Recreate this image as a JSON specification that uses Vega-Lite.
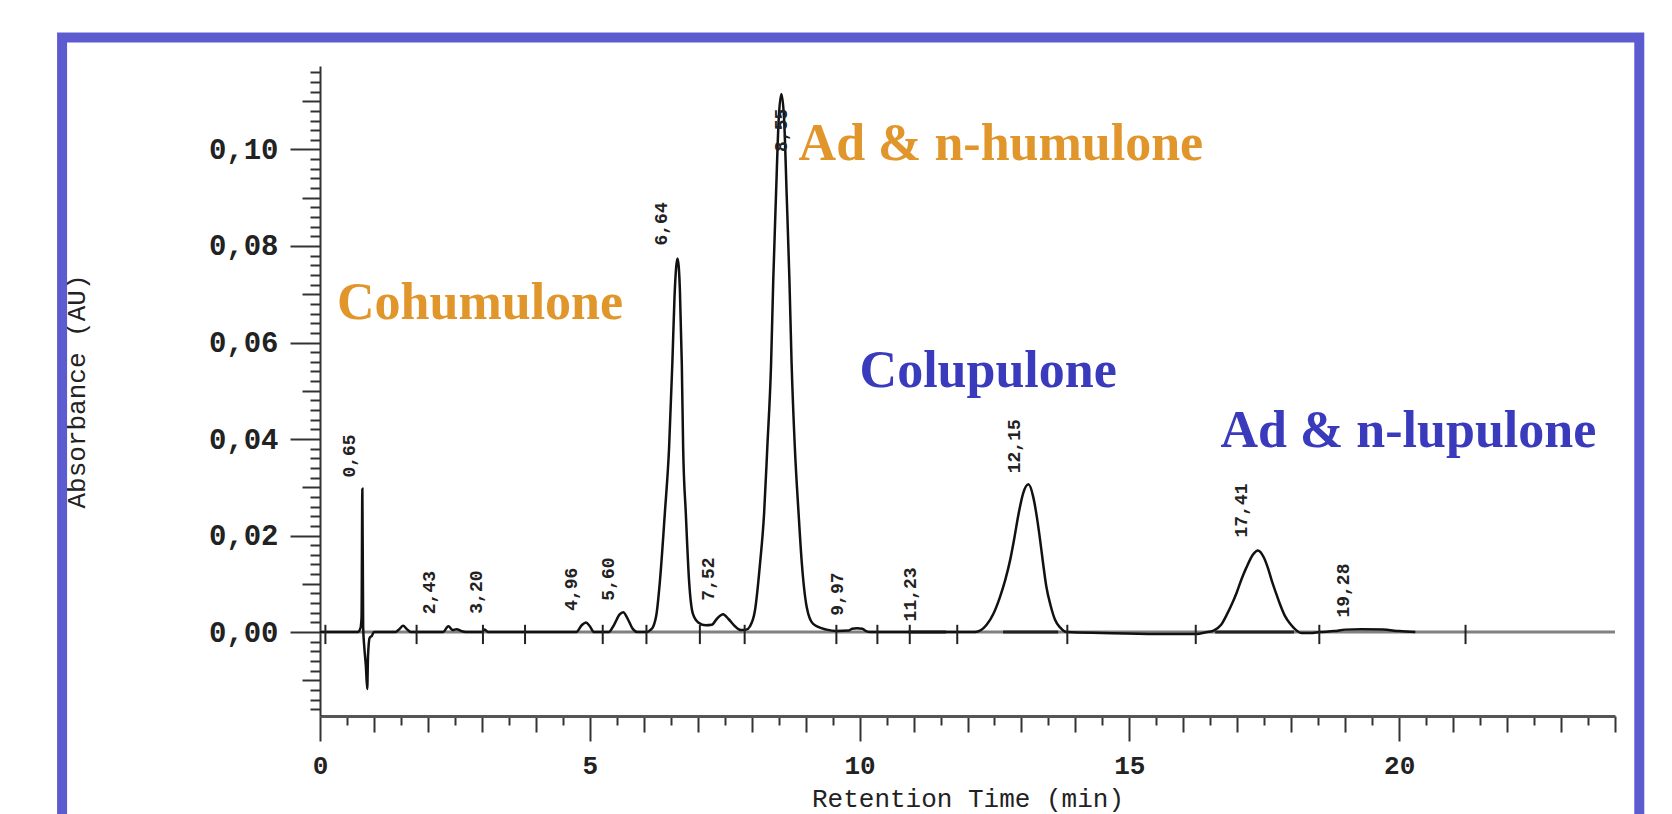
{
  "$schema": "https://vega.github.io/schema/vega-lite/v6.json",
  "width": 1295,
  "height": 650,
  "autosize": {"type": "none"},
  "padding": {"left": 320, "top": 66, "right": 57, "bottom": 98},
  "background": "white",
  "config": {"view": {"stroke": null}},
  "datasets": {
    "trace": [
      {"t": 0.0, "a": 0}, {"t": 0.7, "a": 0}, {"t": 0.75, "a": 0.0008}, {"t": 0.77, "a": 0.003},
      {"t": 0.785, "a": 0.0297}, {"t": 0.8, "a": 0.001}, {"t": 0.82, "a": -0.003}, {"t": 0.85, "a": -0.007},
      {"t": 0.875, "a": -0.0118}, {"t": 0.89, "a": -0.005}, {"t": 0.92, "a": -0.0012}, {"t": 0.96, "a": -0.0008},
      {"t": 1.0, "a": 0}, {"t": 1.4, "a": 0}, {"t": 1.47, "a": 0.0006}, {"t": 1.54, "a": 0.0013},
      {"t": 1.61, "a": 0.0006}, {"t": 1.68, "a": 0}, {"t": 2.28, "a": 0}, {"t": 2.38, "a": 0.0012},
      {"t": 2.46, "a": 0.0004}, {"t": 2.53, "a": 0.0006}, {"t": 2.62, "a": 0.0002}, {"t": 2.7, "a": 0},
      {"t": 3.0, "a": 0}, {"t": 3.05, "a": 0.0005}, {"t": 3.12, "a": 0}, {"t": 4.75, "a": 0},
      {"t": 4.85, "a": 0.0014}, {"t": 4.93, "a": 0.002}, {"t": 5.0, "a": 0.0012}, {"t": 5.08, "a": 0},
      {"t": 5.35, "a": 0}, {"t": 5.45, "a": 0.0015}, {"t": 5.55, "a": 0.0036}, {"t": 5.62, "a": 0.0041},
      {"t": 5.7, "a": 0.0028}, {"t": 5.8, "a": 0.0006}, {"t": 5.88, "a": 0}, {"t": 6.05, "a": 0},
      {"t": 6.12, "a": 0.0004}, {"t": 6.17, "a": 0.001}, {"t": 6.24, "a": 0.004}, {"t": 6.3, "a": 0.0106},
      {"t": 6.39, "a": 0.0245}, {"t": 6.47, "a": 0.0383}, {"t": 6.53, "a": 0.0557}, {"t": 6.57, "a": 0.0694},
      {"t": 6.6, "a": 0.0755}, {"t": 6.625, "a": 0.0774}, {"t": 6.65, "a": 0.0755}, {"t": 6.67, "a": 0.0708},
      {"t": 6.705, "a": 0.0557}, {"t": 6.73, "a": 0.0383}, {"t": 6.78, "a": 0.0245}, {"t": 6.84, "a": 0.0106},
      {"t": 6.91, "a": 0.0038}, {"t": 7.01, "a": 0.002}, {"t": 7.15, "a": 0.0014}, {"t": 7.26, "a": 0.0015},
      {"t": 7.36, "a": 0.0028}, {"t": 7.47, "a": 0.0037}, {"t": 7.57, "a": 0.0027}, {"t": 7.69, "a": 0.0012},
      {"t": 7.8, "a": 0.0004}, {"t": 7.9, "a": 0.0005}, {"t": 7.97, "a": 0.0012}, {"t": 8.06, "a": 0.0044},
      {"t": 8.155, "a": 0.0142}, {"t": 8.23, "a": 0.0245}, {"t": 8.29, "a": 0.0383}, {"t": 8.36, "a": 0.0557},
      {"t": 8.4, "a": 0.0729}, {"t": 8.45, "a": 0.0902}, {"t": 8.5, "a": 0.106}, {"t": 8.55, "a": 0.1115},
      {"t": 8.6, "a": 0.1065}, {"t": 8.65, "a": 0.0902}, {"t": 8.7, "a": 0.0729}, {"t": 8.74, "a": 0.0557},
      {"t": 8.8, "a": 0.0383}, {"t": 8.87, "a": 0.0245}, {"t": 8.93, "a": 0.0142}, {"t": 9.02, "a": 0.0052},
      {"t": 9.14, "a": 0.0017}, {"t": 9.39, "a": 0.0005}, {"t": 9.57, "a": 0.0002}, {"t": 9.8, "a": 0.0003},
      {"t": 9.86, "a": 0.0007}, {"t": 9.95, "a": 0.0008}, {"t": 10.05, "a": 0.0007}, {"t": 10.12, "a": 0.0002},
      {"t": 10.2, "a": 0}, {"t": 12.14, "a": 0}, {"t": 12.355, "a": 0.0015}, {"t": 12.48, "a": 0.0038},
      {"t": 12.6, "a": 0.0072}, {"t": 12.7, "a": 0.0108}, {"t": 12.79, "a": 0.0149}, {"t": 12.87, "a": 0.0196},
      {"t": 12.94, "a": 0.0241}, {"t": 13.03, "a": 0.0287}, {"t": 13.13, "a": 0.0306}, {"t": 13.22, "a": 0.0279},
      {"t": 13.29, "a": 0.0235}, {"t": 13.35, "a": 0.0187}, {"t": 13.4, "a": 0.0143}, {"t": 13.46, "a": 0.0095},
      {"t": 13.54, "a": 0.0055}, {"t": 13.62, "a": 0.0026}, {"t": 13.72, "a": 0.0009}, {"t": 13.84, "a": 0},
      {"t": 14.5, "a": -0.0002}, {"t": 15.5, "a": -0.0004}, {"t": 16.25, "a": -0.0004}, {"t": 16.4, "a": -0.0001},
      {"t": 16.56, "a": 0.0003}, {"t": 16.7, "a": 0.0015}, {"t": 16.81, "a": 0.0037}, {"t": 16.9, "a": 0.0058},
      {"t": 16.99, "a": 0.0082}, {"t": 17.08, "a": 0.011}, {"t": 17.17, "a": 0.0134}, {"t": 17.3, "a": 0.0162},
      {"t": 17.38, "a": 0.0169}, {"t": 17.49, "a": 0.0155}, {"t": 17.57, "a": 0.0132}, {"t": 17.64, "a": 0.0106},
      {"t": 17.72, "a": 0.008}, {"t": 17.79, "a": 0.0058}, {"t": 17.88, "a": 0.0034}, {"t": 17.98, "a": 0.0017},
      {"t": 18.08, "a": 0.0005}, {"t": 18.19, "a": -0.0002}, {"t": 18.35, "a": -0.0002}, {"t": 18.53, "a": 0},
      {"t": 18.8, "a": 0.0002}, {"t": 19.0, "a": 0.0005}, {"t": 19.3, "a": 0.0006}, {"t": 19.7, "a": 0.0005},
      {"t": 20.0, "a": 0.0002}, {"t": 20.3, "a": 0}
    ],
    "markers": [
      {"t": 0.1}, {"t": 1.79}, {"t": 3.02}, {"t": 3.8}, {"t": 5.24}, {"t": 6.05}, {"t": 7.04}, {"t": 7.87},
      {"t": 9.57}, {"t": 10.33}, {"t": 10.93}, {"t": 11.81}, {"t": 13.85}, {"t": 16.23}, {"t": 18.52}, {"t": 21.23}
    ],
    "baselines": [
      {"t": 10.9, "t2": 11.6}, {"t": 12.66, "t2": 13.68}, {"t": 16.59, "t2": 18.05}
    ],
    "peaks": [
      {"t": 0.556, "a": 0.032, "label": "0,65"},
      {"t": 2.044, "a": 0.0037, "label": "2,43"},
      {"t": 2.905, "a": 0.0038, "label": "3,20"},
      {"t": 4.665, "a": 0.0044, "label": "4,96"},
      {"t": 5.357, "a": 0.0065, "label": "5,60"},
      {"t": 6.345, "a": 0.0801, "label": "6,64"},
      {"t": 7.21, "a": 0.0065, "label": "7,52"},
      {"t": 8.57, "a": 0.0995, "label": "8,55"},
      {"t": 9.6, "a": 0.0034, "label": "9,97"},
      {"t": 10.95, "a": 0.0022, "label": "11,23"},
      {"t": 12.88, "a": 0.0329, "label": "12,15"},
      {"t": 17.085, "a": 0.0196, "label": "17,41"},
      {"t": 18.97, "a": 0.003, "label": "19,28"}
    ],
    "names": [
      {"t": 0.315, "a": 0.0649, "name": "Cohumulone", "group": "humulones"},
      {"t": 8.87, "a": 0.0978, "name": "Ad & n-humulone", "group": "humulones"},
      {"t": 10.0, "a": 0.0508, "name": "Colupulone", "group": "lupulones"},
      {"t": 16.69, "a": 0.0384, "name": "Ad & n-lupulone", "group": "lupulones"}
    ]
  },
  "layer": [
    {
      "data": {"values": [{}]},
      "mark": {"type": "rect", "filled": false, "stroke": "#5c5cd0", "strokeWidth": 10, "clip": false},
      "encoding": {
        "x": {"datum": -4.78, "type": "quantitative"},
        "x2": {"datum": 24.45},
        "y": {"datum": 0.1232, "type": "quantitative"},
        "y2": {"datum": -0.06}
      }
    },
    {
      "data": {"values": [{}]},
      "mark": {"type": "rule", "color": "#808080", "strokeWidth": 3},
      "encoding": {
        "x": {"datum": 0, "type": "quantitative"},
        "x2": {"datum": 24},
        "y": {"datum": 0, "type": "quantitative"}
      }
    },
    {
      "data": {"name": "baselines"},
      "mark": {"type": "rule", "color": "#222222", "strokeWidth": 3},
      "encoding": {
        "x": {"field": "t", "type": "quantitative"},
        "x2": {"field": "t2"},
        "y": {"datum": 0, "type": "quantitative"}
      }
    },
    {
      "data": {"name": "trace"},
      "mark": {"type": "line", "color": "#111111", "strokeWidth": 2.5, "interpolate": "monotone"},
      "encoding": {
        "x": {
          "field": "t", "type": "quantitative",
          "scale": {"domain": [0, 24], "nice": false, "zero": false},
          "axis": {
            "title": "Retention Time (min)",
            "tickCount": 500,
            "values": [0,0.5,1,1.5,2,2.5,3,3.5,4,4.5,5,5.5,6,6.5,7,7.5,8,8.5,9,9.5,10,10.5,11,11.5,12,12.5,13,13.5,14,14.5,15,15.5,16,16.5,17,17.5,18,18.5,19,19.5,20,20.5,21,21.5,22,22.5,23,23.5,24],
            "labelExpr": "datum.value % 5 == 0 ? '' + datum.value : ''",
            "tickSize": {"condition": [{"test": "datum.value % 1 != 0", "value": 9}, {"test": "datum.value % 5 != 0", "value": 16}], "value": 25},
            "tickColor": "#333333", "tickWidth": 2,
            "domainColor": "#555555", "domainWidth": 3,
            "grid": false, "labelOverlap": false, "labelFlush": false, "labelBound": false,
            "labelFont": "Liberation Mono", "labelFontSize": 26, "labelFontWeight": "bold", "labelColor": "#222222",
            "labelPadding": 11,
            "titleFont": "Liberation Mono", "titleFontSize": 26, "titleFontWeight": "normal", "titleColor": "#222222",
            "titlePadding": 7
          }
        },
        "y": {
          "field": "a", "type": "quantitative",
          "scale": {"domain": [-0.0174, 0.1173], "nice": false, "zero": false},
          "axis": {
            "title": "Absorbance (AU)",
            "tickCount": 500,
            "values": [-0.016,-0.014,-0.012,-0.01,-0.008,-0.006,-0.004,-0.002,0,0.002,0.004,0.006,0.008,0.01,0.012,0.014,0.016,0.018,0.02,0.022,0.024,0.026,0.028,0.03,0.032,0.034,0.036,0.038,0.04,0.042,0.044,0.046,0.048,0.05,0.052,0.054,0.056,0.058,0.06,0.062,0.064,0.066,0.068,0.07,0.072,0.074,0.076,0.078,0.08,0.082,0.084,0.086,0.088,0.09,0.092,0.094,0.096,0.098,0.1,0.102,0.104,0.106,0.108,0.11,0.112,0.114,0.116],
            "labelExpr": "abs(datum.value * 50 - round(datum.value * 50)) < 0.001 ? replace(format(datum.value, '.2f'), '.', ',') : ''",
            "tickSize": {"condition": [{"test": "abs(datum.value * 100 - round(datum.value * 100)) > 0.001", "value": 10}, {"test": "abs(datum.value * 50 - round(datum.value * 50)) > 0.001", "value": 18}], "value": 30},
            "tickColor": "#333333", "tickWidth": 2,
            "domainColor": "#333333", "domainWidth": 2,
            "grid": false, "labelOverlap": false, "labelFlush": false, "labelBound": false,
            "labelFont": "Liberation Mono", "labelFontSize": 29, "labelFontWeight": "bold", "labelColor": "#222222",
            "labelPadding": 12,
            "titleFont": "Liberation Mono", "titleFontSize": 26, "titleFontWeight": "normal", "titleColor": "#222222",
            "titlePadding": 119
          }
        }
      }
    },
    {
      "data": {"name": "markers"},
      "mark": {"type": "rule", "color": "#222222", "strokeWidth": 2},
      "encoding": {
        "x": {"field": "t", "type": "quantitative"},
        "y": {"datum": -0.0025, "type": "quantitative"},
        "y2": {"datum": 0.0015}
      }
    },
    {
      "data": {"name": "peaks"},
      "mark": {"type": "text", "angle": 270, "align": "left", "baseline": "middle", "font": "Liberation Mono", "fontSize": 18, "fontWeight": "bold", "color": "#222222"},
      "encoding": {
        "x": {"field": "t", "type": "quantitative"},
        "y": {"field": "a", "type": "quantitative"},
        "text": {"field": "label"}
      }
    },
    {
      "data": {"name": "names"},
      "mark": {"type": "text", "align": "left", "baseline": "alphabetic", "font": "Liberation Serif", "fontSize": 52, "fontWeight": "bold"},
      "encoding": {
        "x": {"field": "t", "type": "quantitative"},
        "y": {"field": "a", "type": "quantitative"},
        "text": {"field": "name"},
        "color": {"field": "group", "type": "nominal", "scale": {"domain": ["humulones", "lupulones"], "range": ["#E0962A", "#3A3ABD"]}, "legend": null}
      }
    }
  ]
}
